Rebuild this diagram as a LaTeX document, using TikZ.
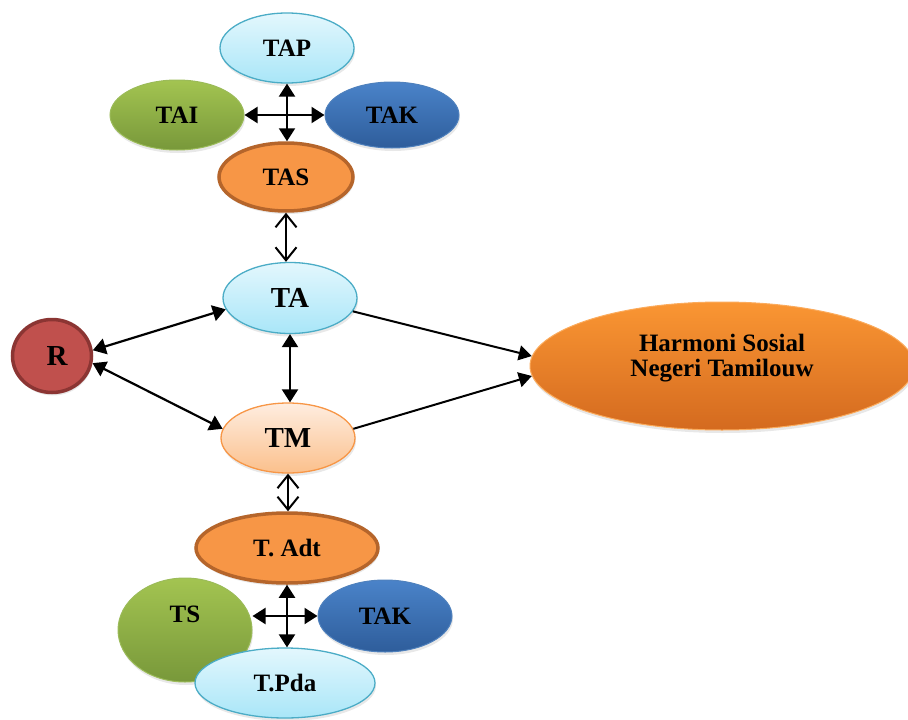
\documentclass[tikz,border=0pt]{standalone}
\usepackage{fontspec}
\setmainfont{Liberation Serif}
\usetikzlibrary{shapes.geometric,arrows.meta,shadows}

\begin{document}
\begin{tikzpicture}[x=1pt,y=-1pt]
  % Colors
  \definecolor{skytop}{HTML}{E3F7FD}
  \definecolor{skybottom}{HTML}{A9E6F8}
  \definecolor{skyline}{HTML}{4BACC6}
  \definecolor{greentop}{HTML}{A3C451}
  \definecolor{greenbottom}{HTML}{78983A}
  \definecolor{greenline}{HTML}{9BBB59}
  \definecolor{bluetop}{HTML}{4A83C9}
  \definecolor{bluebottom}{HTML}{2E5D9B}
  \definecolor{blueline}{HTML}{4F81BD}
  \definecolor{orangefill}{HTML}{F79646}
  \definecolor{orangeline}{HTML}{B5652B}
  \definecolor{peachtop}{HTML}{FEEDE0}
  \definecolor{peachbottom}{HTML}{FBC08C}
  \definecolor{redfill}{HTML}{C0504D}
  \definecolor{redline}{HTML}{8B3533}
  \definecolor{goaltop}{HTML}{FA9633}
  \definecolor{goalbottom}{HTML}{D46A1F}

  % Styles
  \tikzstyle{bubble}=[ellipse,inner sep=0pt,align=center,
    font=\fontsize{25}{25}\selectfont\bfseries,
    drop shadow={opacity=0.18,shadow xshift=1pt,shadow yshift=-3pt}]
  \tikzstyle{big text}=[font=\fontsize{29}{30}\selectfont\bfseries]
  \tikzstyle{sky}=[bubble,top color=skytop,bottom color=skybottom,draw=skyline,line width=1.3pt]
  \tikzstyle{grass}=[bubble,top color=greentop,bottom color=greenbottom,draw=greenline,line width=1pt]
  \tikzstyle{sea}=[bubble,top color=bluetop,bottom color=bluebottom,draw=blueline,line width=1pt]
  \tikzstyle{adat}=[bubble,fill=orangefill,draw=orangeline,line width=3.5pt]
  \tikzstyle{peach}=[bubble,top color=peachtop,bottom color=peachbottom,draw=orangefill,line width=1.3pt]
  \tikzstyle{root}=[bubble,fill=redfill,draw=redline,line width=3.5pt]
  \tikzstyle{goal}=[bubble,top color=goaltop,bottom color=goalbottom,draw=goaltop!80!white,line width=1pt]
  \tikzstyle{both ways}=[line width=2.2pt,{Triangle[length=13pt,width=16pt]}-{Triangle[length=13pt,width=16pt]}]
  \tikzstyle{open ways}=[line width=2pt,{Straight Barb[length=13pt,width=21pt]}-{Straight Barb[length=13pt,width=21pt]}]
  \tikzstyle{one way}=[line width=2pt,-{Triangle[length=13pt,width=15pt]}]

  \useasboundingbox (0,0) rectangle (908,720);

  % The graphic
  \node[sky,minimum width=134pt,minimum height=70pt] (tap) at (287,48) {TAP};
  \node[grass,minimum width=134pt,minimum height=70pt] (tai) at (177,115) {TAI};
  \node[sea,minimum width=134pt,minimum height=66pt] (takup) at (392,115) {TAK};
  \node[adat,minimum width=134pt,minimum height=68pt] (tas) at (286,177) {TAS};

  \node[sky,big text,minimum width=134pt,minimum height=71pt] (ta) at (290,298) {TA};
  \node[root,big text,minimum width=79pt,minimum height=73pt] (r) at (52,356) {\hspace{10pt}R};
  \node[peach,big text,minimum width=134pt,minimum height=70pt] (tm) at (288,438) {TM};
  \node[goal,minimum width=384pt,minimum height=128pt] (hs) at (722,366)
    {Harmoni Sosial\\Negeri Tamilouw\\[-4pt]};

  \node[adat,minimum width=182pt,minimum height=70pt] (adt) at (287,548) {T. Adt};
  \node[grass,minimum width=134pt,minimum height=104pt] (ts) at (185,630) {TS\\[7pt]};
  \node[sea,minimum width=134pt,minimum height=72pt] (takdown) at (385,616) {TAK};
  \node[sky,minimum width=180pt,minimum height=70pt] (pda) at (285,683) {T.Pda};

  \draw[both ways] (tap.south) -- (tap.south |- tas.north);
  \draw[both ways] (tai.east) -- (takup.west);
  \draw[open ways] (tas.south) -- (tas.south |- ta.north);

  \draw[both ways] (r.8) -- (ta.190);
  \draw[both ways] (r.-10) -- (tm.172);
  \draw[both ways] (ta.south) -- (ta.south |- tm.north);
  \draw[one way] (ta.-12) -- (hs.177);
  \draw[one way] (tm.8) -- (hs.183);

  \draw[open ways] (tm.south) -- (tm.south |- adt.north);
  \draw[both ways] (adt.south) -- (adt.south |- pda.north);
  \draw[both ways] (ts.east |- takdown.west) -- (takdown.west);
\end{tikzpicture}
\end{document}
